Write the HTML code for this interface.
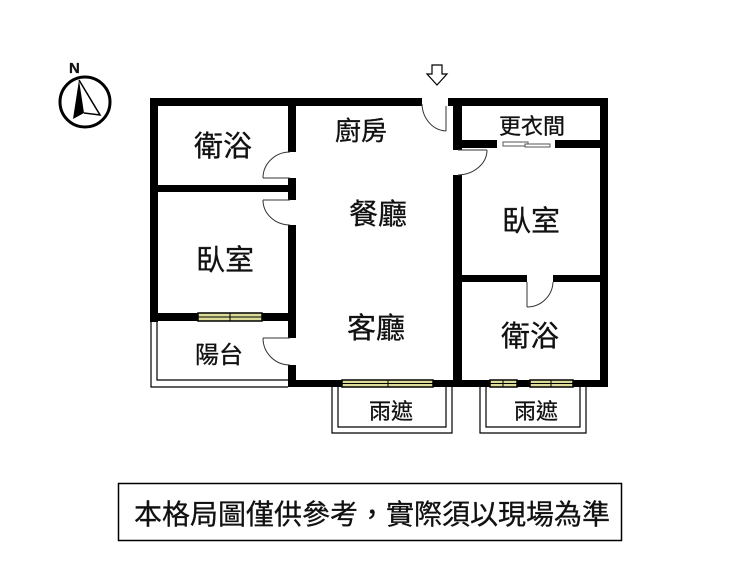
<!DOCTYPE html>
<html><head><meta charset="utf-8"><style>
html,body{margin:0;padding:0;background:#fff;width:756px;height:583px;overflow:hidden}
svg{display:block}
text{font-family:"Liberation Sans","Noto Sans CJK TC",sans-serif;fill:#111;stroke:#111;stroke-width:0.3}
</style></head><body>
<svg width="756" height="583" viewBox="0 0 756 583" xmlns="http://www.w3.org/2000/svg">
<!-- compass -->
<circle cx="85" cy="102" r="25" fill="none" stroke="#000" stroke-width="3"/>
<polygon points="79,80 73,119 84,113" fill="#000"/>
<polyline points="79,80 100,115 84,113" fill="none" stroke="#000" stroke-width="1.5"/>
<text x="69" y="73" font-size="15" font-weight="bold" style="font-family:'Liberation Sans',sans-serif">N</text>
<!-- entry arrow -->
<polygon points="432,65 442,65 442,74 447,74 437,85 427,74 432,74" fill="#fff" stroke="#000" stroke-width="1.2"/>

<g fill="#000">
<rect x="150" y="98" width="272" height="8"/>
<rect x="448" y="98" width="160" height="8"/>
<rect x="150" y="98" width="8" height="224"/>
<rect x="288" y="98" width="8" height="54"/>
<rect x="288" y="178" width="8" height="22"/>
<rect x="288" y="225" width="8" height="113"/>
<rect x="288" y="365" width="8" height="22"/>
<rect x="150" y="185" width="146" height="7"/>
<rect x="150" y="313" width="48" height="8"/>
<rect x="262" y="313" width="34" height="8"/>
<rect x="288" y="380" width="54" height="7"/>
<rect x="433" y="380" width="57" height="7"/>
<rect x="517" y="380" width="13" height="7"/>
<rect x="573" y="380" width="35" height="7"/>
<rect x="453" y="98" width="9" height="52"/>
<rect x="453" y="175" width="9" height="212"/>
<rect x="600" y="98" width="8" height="289"/>
<rect x="453" y="140" width="44" height="8"/>
<rect x="555" y="140" width="53" height="8"/>
<rect x="453" y="275" width="74" height="7"/>
<rect x="553" y="275" width="55" height="7"/>
</g>

<g stroke="#555" stroke-width="1" fill="#fff">
<rect x="503" y="142" width="25" height="4"/>
<rect x="525" y="144" width="25" height="3"/>
</g>

<g fill="none" stroke="#333" stroke-width="1">
<line x1="446" y1="106" x2="446" y2="131"/><path d="M446,131 A25,28 0 0 1 422,104"/>
<line x1="458" y1="150" x2="487" y2="150"/><path d="M487,150 A30,25 0 0 1 458,175"/>
<line x1="263" y1="178" x2="290" y2="178"/><path d="M263,178 A27,26 0 0 1 290,152"/>
<line x1="263" y1="200" x2="290" y2="200"/><path d="M263,200 A27,25 0 0 0 290,225"/>
<line x1="527" y1="282" x2="527" y2="307"/><path d="M527,307 A26,26 0 0 0 553,282"/>
<path d="M263,338 A27,27 0 0 0 290,365"/>
<line x1="263" y1="338" x2="290" y2="338"/>
</g>

<g fill="#dcdc98" stroke="#000" stroke-width="1.5">
<rect x="198" y="313" width="64" height="8"/>
<rect x="342" y="380" width="91" height="7"/>
<rect x="490" y="380" width="27" height="7"/>
<rect x="530" y="380" width="43" height="7"/>
</g>
<g stroke="#000" stroke-width="1">
<line x1="198" y1="317" x2="262" y2="317"/><line x1="230" y1="313" x2="230" y2="321"/>
<line x1="342" y1="383.5" x2="433" y2="383.5"/><line x1="388" y1="380" x2="388" y2="387"/>
<line x1="490" y1="383.5" x2="517" y2="383.5"/><line x1="503" y1="380" x2="503" y2="387"/>
<line x1="530" y1="383.5" x2="573" y2="383.5"/><line x1="551" y1="380" x2="551" y2="387"/>
</g>

<g fill="none" stroke="#000" stroke-width="1.2">
<polyline points="151,321 151,387 288,387"/>
<polyline points="157,321 157,380 288,380"/>
<polyline points="332,387 332,433 452,433 452,387"/>
<polyline points="338,387 338,427 446,427 446,387"/>
<polyline points="480,387 480,433 586,433 586,387"/>
<polyline points="486,387 486,427 580,427 580,387"/>
</g>

<g text-anchor="middle">
<text x="223" y="156" font-size="29">衛浴</text>
<text x="225" y="270" font-size="29">臥室</text>
<text x="361" y="140" font-size="26">廚房</text>
<text x="378" y="224" font-size="29">餐廳</text>
<text x="376" y="338" font-size="29">客廳</text>
<text x="219" y="363" font-size="24">陽台</text>
<text x="391" y="419" font-size="22">雨遮</text>
<text x="532" y="134" font-size="22">更衣間</text>
<text x="531" y="231" font-size="29">臥室</text>
<text x="530" y="346" font-size="29">衛浴</text>
<text x="536" y="419" font-size="22">雨遮</text>
</g>

<rect x="118.5" y="483.5" width="503" height="57" fill="none" stroke="#000" stroke-width="1.5"/>
<text x="372" y="524" font-size="28" text-anchor="middle">本格局圖僅供參考，實際須以現場為準</text>
</svg>
</body></html>
